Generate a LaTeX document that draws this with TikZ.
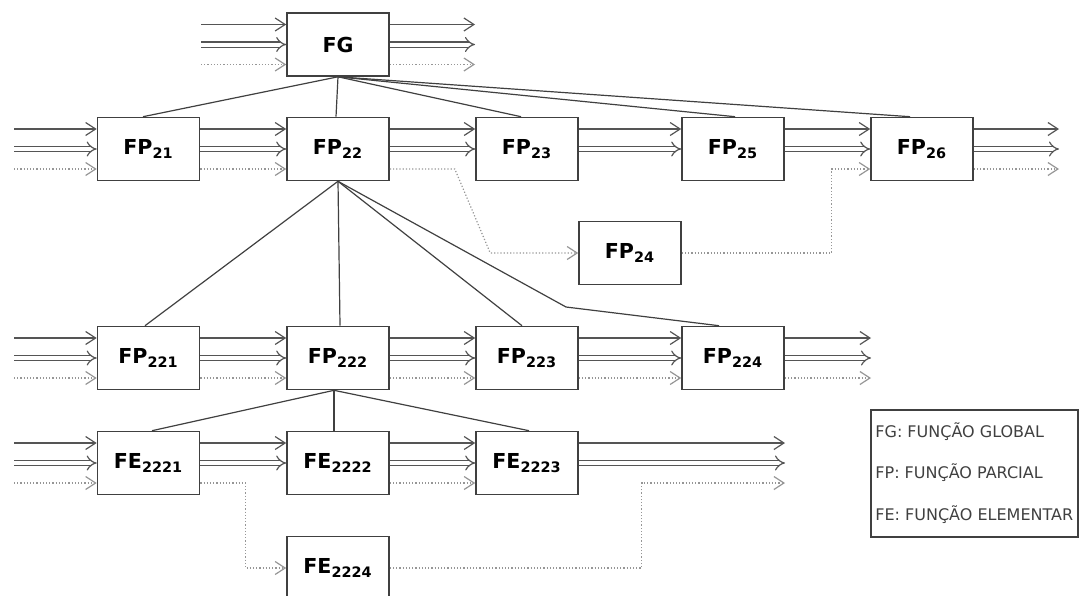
\documentclass[tikz,border=0pt]{standalone}
\usepackage{fontspec}
\setmainfont{DejaVu Sans}
\usetikzlibrary{arrows.meta, positioning}
\definecolor{linegray}{RGB}{85, 85, 85}
\definecolor{dotgray}{RGB}{150, 150, 150}

\begin{document}
\begin{tikzpicture}[x=0.5pt, y=-0.5pt,
  fbox/.style={draw=black!75, line width=0.8pt, fill=white, inner sep=0pt,
    minimum width=51pt, minimum height=31.5pt,
    font=\bfseries\fontsize{10.3}{12}\selectfont},
  single/.style={draw=linegray, line width=0.6pt, -{Straight Barb[length=5pt, width=6.5pt]}},
  dbl/.style={draw=linegray, line width=0.6pt, double=white, double distance=2pt, -{Implies}},
  dots/.style={draw=dotgray, line width=0.6pt, densely dotted, -{Straight Barb[length=5pt, width=6.5pt]}},
  tree/.style={draw=black!75, line width=0.6pt},
  legtext/.style={anchor=west, inner sep=0pt, text=black!75, font=\fontsize{8}{10}\selectfont},
]
  % Page size
  \useasboundingbox (0,0) rectangle (1079,595);

  % Boxes
  \node[fbox] (FG) at (338,44.5) {FG};

  \node[fbox] (FP21) at (148.5,149) {FP\textsubscript{21}};
  \node[fbox] (FP22) at (338,149) {FP\textsubscript{22}};
  \node[fbox] (FP23) at (527,149) {FP\textsubscript{23}};
  \node[fbox] (FP25) at (733,149) {FP\textsubscript{25}};
  \node[fbox] (FP26) at (922,149) {FP\textsubscript{26}};
  \node[fbox] (FP24) at (630,253) {FP\textsubscript{24}};

  \node[fbox] (FP221) at (148.5,358) {FP\textsubscript{221}};
  \node[fbox] (FP222) at (338,358) {FP\textsubscript{222}};
  \node[fbox] (FP223) at (527,358) {FP\textsubscript{223}};
  \node[fbox] (FP224) at (733,358) {FP\textsubscript{224}};

  \node[fbox] (FE2221) at (148.5,463) {FE\textsubscript{2221}};
  \node[fbox] (FE2222) at (338,463) {FE\textsubscript{2222}};
  \node[fbox] (FE2223) at (527,463) {FE\textsubscript{2223}};
  \node[fbox] (FE2224) at (338,568) {FE\textsubscript{2224}};

  % Free ends of the flows
  \coordinate (fgin) at (201,44.5);
  \coordinate (fgout) at (475,44.5);
  \coordinate (row1in) at (14,149);
  \coordinate (row1out) at (1059,149);
  \coordinate (row2in) at (14,358);
  \coordinate (row2out) at (871,358);
  \coordinate (row3in) at (14,463);
  \coordinate (row3out) at (785,463);
  \coordinate (kink) at (566,307);

  % Inputs
  \foreach \s/\e in {fgin/FG, row1in/FP21, row2in/FP221, row3in/FE2221} {
    \draw[single] ([yshift=10pt]\s) -- ([yshift=10pt]\e.west);
    \draw[dbl] (\s) -- (\e.west);
    \draw[dots] ([yshift=-10pt]\s) -- ([yshift=-10pt]\e.west);
  }

  % Outputs
  \foreach \s/\e in {FG/fgout, FP26/row1out, FP224/row2out} {
    \draw[single] ([yshift=10pt]\s.east) -- ([yshift=10pt]\e);
    \draw[dbl] (\s.east) -- (\e);
    \draw[dots] ([yshift=-10pt]\s.east) -- ([yshift=-10pt]\e);
  }
  \draw[single] ([yshift=10pt]FE2223.east) -- ([yshift=10pt]row3out);
  \draw[dbl] (FE2223.east) -- (row3out);

  % Three flows between boxes
  \foreach \a/\b in {FP21/FP22, FP221/FP222, FP222/FP223, FP223/FP224, FE2222/FE2223} {
    \draw[single] ([yshift=10pt]\a.east) -- ([yshift=10pt]\b.west);
    \draw[dbl] (\a.east) -- (\b.west);
    \draw[dots] ([yshift=-10pt]\a.east) -- ([yshift=-10pt]\b.west);
  }

  % Two flows between boxes
  \foreach \a/\b in {FP22/FP23, FP23/FP25, FP25/FP26, FE2221/FE2222} {
    \draw[single] ([yshift=10pt]\a.east) -- ([yshift=10pt]\b.west);
    \draw[dbl] (\a.east) -- (\b.west);
  }

  % Side branches
  \draw[dots] ([yshift=-10pt]FP22.east) -- ++(65,0) -- ([xshift=-44pt]FP24.west) -- (FP24.west);
  \draw[dots] (FP24.east) -- ++(150,0) |- ([yshift=-10pt]FP26.west);
  \draw[dots] ([yshift=-10pt]FE2221.east) -- ++(45,0) |- (FE2224.west);
  \draw[dots] (FE2224.east) -- ++(252,0) |- ([yshift=-10pt]row3out);

  % Breakdown of FG
  \draw[tree] (FG.south) -- ([xshift=-2.75pt]FP21.north);
  \draw[tree] (FG.south) -- ([xshift=-1pt]FP22.north);
  \draw[tree] (FG.south) -- ([xshift=-3pt]FP23.north);
  \draw[tree] (FG.south) -- ([xshift=1pt]FP25.north);
  \draw[tree] (FG.south) -- ([xshift=-6pt]FP26.north);

  % Breakdown of FP22
  \draw[tree] (FP22.south) -- ([xshift=-1.75pt]FP221.north);
  \draw[tree] (FP22.south) -- ([xshift=1pt]FP222.north);
  \draw[tree] (FP22.south) -- ([xshift=-2.5pt]FP223.north);
  \draw[tree] (FP22.south) -- (kink) -- ([xshift=-7pt]FP224.north);

  % Breakdown of FP222
  \draw[tree] ([xshift=-2pt]FP222.south) -- ([xshift=1.75pt]FE2221.north);
  \draw[tree] ([xshift=-2pt]FP222.south) -- ([xshift=-2pt]FE2222.north);
  \draw[tree] ([xshift=-2pt]FP222.south) -- ([xshift=1pt]FE2223.north);

  % Legend
  \node[draw=black!75, line width=0.7pt, minimum width=103.5pt, minimum height=63.5pt] (legend) at (974.5,473.5) {};
  \node[legtext] (legFG) at (875,432) {FG: FUNÇÃO GLOBAL};
  \node[legtext] (legFP) at (875,473) {FP: FUNÇÃO PARCIAL};
  \node[legtext] (legFE) at (875,515) {FE: FUNÇÃO ELEMENTAR};

\end{tikzpicture}
\end{document}
